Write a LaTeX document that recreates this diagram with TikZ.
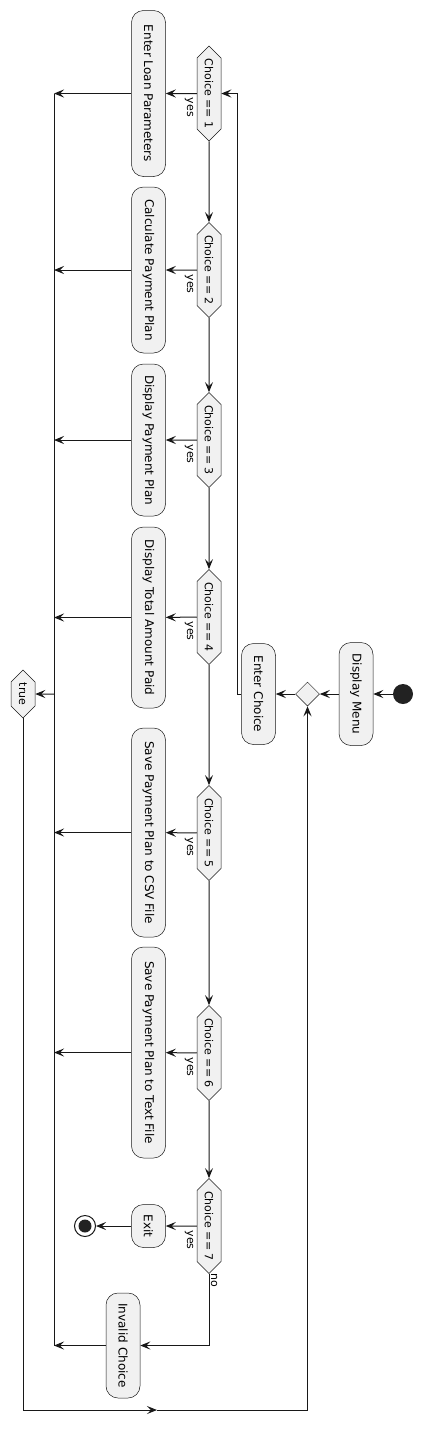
\documentclass[tikz,border=0pt]{standalone}
\usepackage{fontspec}
\setmainfont{DejaVu Sans}
\usetikzlibrary{arrows.meta, shapes.geometric, shapes.symbols}
\definecolor{umlfill}{HTML}{F1F1F1}
\definecolor{umlline}{HTML}{181818}
\definecolor{umldot}{HTML}{222222}

\tikzset{
  act/.style={rectangle, rounded corners=12pt, draw=umlline, line width=0.5pt, fill=umlfill,
    rotate=-90, minimum height=34pt, inner sep=0pt, font=\fontsize{12}{14}\selectfont},
  cond/.style={signal, signal to=east and west, draw=umlline, line width=0.5pt, fill=umlfill,
    rotate=-90, minimum height=24pt, minimum width=95pt, inner sep=0pt, font=\fontsize{11}{13}\selectfont},
  mergept/.style={diamond, draw=umlline, line width=0.5pt, fill=umlfill, minimum size=24pt, inner sep=0pt},
  flow/.style={draw=umlline, line width=1pt, -{Stealth[length=10pt,width=8pt,inset=4pt]}},
  plain/.style={draw=umlline, line width=1pt},
  lbl/.style={rotate=-90, inner sep=0pt, font=\fontsize{11}{13}\selectfont}
}

\begin{document}
\begin{tikzpicture}[x=1pt, y=-1pt]
\useasboundingbox (0,0) rectangle (423,1435);

\node (start) at (403,694) [circle, fill=umldot, minimum size=20pt, inner sep=0pt] {};
\node (menu) at (356,694) [act, minimum width=103pt] {Display Menu};
\node (merge) at (307.5,694) [mergept] {};
\node (enterc) at (258.5,694) [act, minimum width=101pt] {Enter Choice};
\coordinate (back) at (237,694);

\node (c1) at (209,93.5) [cond] {Choice == 1};
\node (c2) at (209,270) [cond] {Choice == 2};
\node (c3) at (209,440) [cond] {Choice == 3};
\node (c4) at (209,617) [cond] {Choice == 4};
\node (c5) at (209,833) [cond] {Choice == 5};
\node (c6) at (209,1053) [cond] {Choice == 6};
\node (c7) at (209,1226) [cond] {Choice == 7};

\node (loan) at (148.5,93.5) [act, minimum width=166pt] {Enter Loan Parameters};
\node (calc) at (148.5,270) [act, minimum width=166pt] {Calculate Payment Plan};
\node (show) at (148.5,440) [act, minimum width=152pt] {Display Payment Plan};
\node (total) at (148.5,617.5) [act, minimum width=181pt] {Display Total Amount Paid};
\node (csv) at (148.5,832.5) [act, minimum width=209pt] {Save Payment Plan to CSV File};
\node (txt) at (148.5,1052.5) [act, minimum width=211pt] {Save Payment Plan to Text File};
\node (exit) at (148.5,1226) [act, minimum width=43pt] {Exit};
\node (invalid) at (123,1345.5) [act, minimum width=105pt] {Invalid Choice};
\node (stop) at (85,1226) [circle, draw=umlline, line width=1pt, fill=white, minimum size=21pt, inner sep=0pt,
  path picture={\fill[umldot] (path picture bounding box.center) circle (6.5pt);}] {};

\node (true) at (23,694) [cond, minimum width=48pt] {true};
\coordinate (jtop) at (54,93.5);
\coordinate (jbot) at (54,1345.5);
\coordinate (loopmid) at (157,1410);

\node[lbl] at (189,107.5) {yes};
\node[lbl] at (189,284) {yes};
\node[lbl] at (189,454) {yes};
\node[lbl] at (189,631) {yes};
\node[lbl] at (189,847) {yes};
\node[lbl] at (189,1067) {yes};
\node[lbl] at (189,1240) {yes};
\node[lbl] at (214,1280) {no};

\draw[flow] (start) -- (menu);
\draw[flow] (menu) -- (merge);
\draw[flow] (merge) -- (enterc);
\draw[plain] (enterc) -- (back);
\draw[flow] (back) |- (c1);

\draw[flow] (c1) -- (c2);
\draw[flow] (c2) -- (c3);
\draw[flow] (c3) -- (c4);
\draw[flow] (c4) -- (c5);
\draw[flow] (c5) -- (c6);
\draw[flow] (c6) -- (c7);

\draw[flow] (c1) -- (loan);
\draw[flow] (c2) -- (calc);
\draw[flow] (c3) -- (show);
\draw[flow] (c4) -- (total);
\draw[flow] (c5) -- (csv);
\draw[flow] (c6) -- (txt);
\draw[flow] (c7) -- (exit);
\draw[flow] (exit) -- (stop);
\draw[flow] (c7) |- (invalid);

\draw[plain] (jtop) -- (jbot);
\draw[flow] (loan) -- (loan -| jtop);
\draw[flow] (calc) -- (calc -| jtop);
\draw[flow] (show) -- (show -| jtop);
\draw[flow] (total) -- (total -| jtop);
\draw[flow] (csv) -- (csv -| jtop);
\draw[flow] (txt) -- (txt -| jtop);
\draw[flow] (invalid) -- (jbot);
\draw[flow] (true -| jtop) -- (true);

\draw[flow] (true) |- (loopmid);
\draw[flow] (loopmid) -| (merge);

\end{tikzpicture}
\end{document}
